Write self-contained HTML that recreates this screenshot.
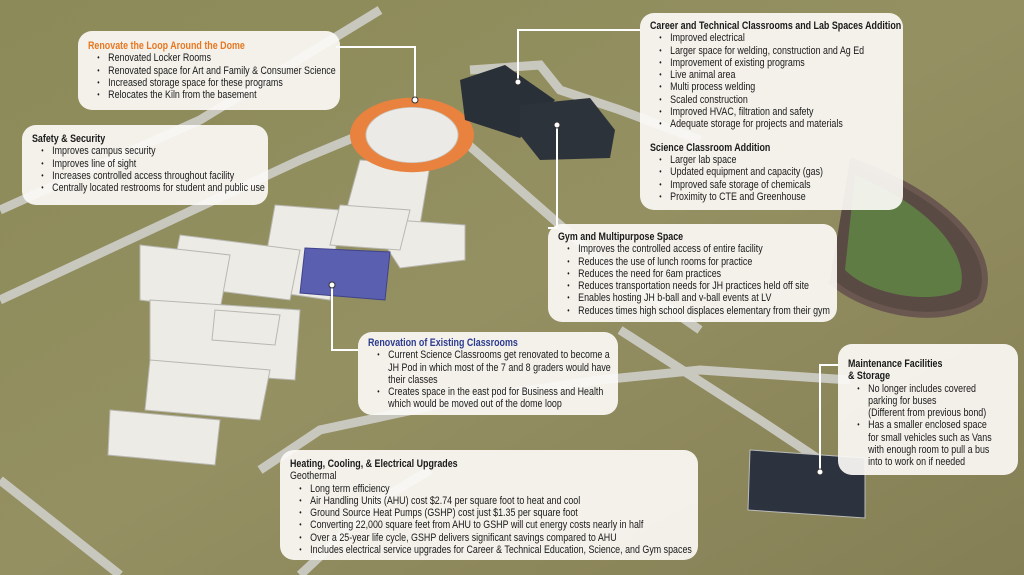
<!DOCTYPE html>
<html><head><meta charset="utf-8">
<style>
html,body{margin:0;padding:0;width:1024px;height:575px;overflow:hidden}
body{position:relative;background:#8d8a5c;font-family:"Liberation Sans",sans-serif}
svg{position:absolute;left:0;top:0}
.box{position:absolute;background:rgba(252,250,246,0.92);border-radius:14px;color:#1a1a1a;box-sizing:border-box;overflow:hidden}
.in{transform:scaleX(.84);transform-origin:0 0;white-space:nowrap;font-size:10.6px;line-height:12.3px}
.box b{font-weight:bold;display:block}
.box ul{margin:0;padding:0 0 0 24px;list-style:none}
.box li{position:relative}
.box li:before{content:"•";position:absolute;left:-13px;font-size:8px}
</style></head><body>
<svg width="1024" height="575" viewBox="0 0 1024 575">
<defs><linearGradient id="g" x1="0" y1="0" x2="1" y2="1"><stop offset="0" stop-color="#8c8a58"/><stop offset=".5" stop-color="#949062"/><stop offset="1" stop-color="#857f55"/></linearGradient></defs>
<rect width="1024" height="575" fill="url(#g)"/>
<g fill="none" stroke="#c9c8bf" stroke-width="9">
<path d="M0 300 L150 230 L300 160 L420 110"/>
<path d="M0 210 L200 120 L380 10"/>
<path d="M470 70 L540 65 L560 90 L620 110 L700 140"/>
<path d="M440 120 L520 190 L600 260 L700 330"/>
<path d="M260 470 L320 430 L460 400 L600 380 L700 370 L850 380"/>
<path d="M300 575 L380 500 L430 470"/>
<path d="M0 480 L120 575"/>
<path d="M620 330 L760 420 L820 460"/>
</g>
<path d="M850 160 C960 200 1000 260 980 300 C940 330 860 310 830 280" fill="#5a4a44" stroke="#6a5850" stroke-width="6"/>
<path d="M855 175 C940 210 970 260 960 290 C930 305 870 295 845 270Z" fill="#5f7c45"/>
<g fill="#ecebe6" stroke="#b8b7b0" stroke-width="1">
<polygon points="360,160 430,165 420,225 345,215"/>
<polygon points="275,205 340,210 330,300 260,290"/>
<polygon points="180,235 300,250 290,300 170,285"/>
<polygon points="140,245 230,255 220,310 140,300"/>
<polygon points="150,300 300,310 295,380 150,370"/>
<polygon points="150,360 270,370 260,420 145,410"/>
<polygon points="110,410 220,420 215,465 108,455"/>
<polygon points="215,310 280,315 275,345 212,340"/>
<polygon points="395,220 465,225 465,260 400,268 385,245"/>
<polygon points="340,205 410,210 400,250 330,245"/>
</g>
<polygon points="305,248 390,252 385,300 300,293" fill="#5b5fb0" stroke="#3f438a"/>
<circle cx="412" cy="135" r="62" fill="#e9823f" transform="matrix(1 0 0 .6 0 54)"/>
<circle cx="412" cy="135" r="46" fill="#eceae6" stroke="#c9c7c0" transform="matrix(1 0 0 .6 0 54)"/>
<polygon points="460,80 505,65 555,100 520,138 465,120" fill="#2a3038"/>
<polygon points="520,105 590,98 615,130 610,158 540,160 520,135" fill="#2d333b"/>
<polygon points="750,450 865,458 865,518 748,510" fill="#2c333e" stroke="#bbb"/>
<g stroke="#fff" stroke-width="2" fill="none">
<path d="M336 47 H415 V100"/>
<path d="M640 30 H518 V82"/>
<path d="M557 125 V228 H548"/>
<path d="M332 285 V350 H358"/>
<path d="M820 472 V365 H838"/>
</g>
<g fill="#fff" stroke="#333" stroke-width="1">
<circle cx="415" cy="100" r="3"/><circle cx="518" cy="82" r="3"/><circle cx="557" cy="125" r="3"/><circle cx="332" cy="285" r="3"/><circle cx="820" cy="472" r="3"/>
</g>
</svg>

<div class="box" style="left:78px;top:31px;width:262px;height:79px;padding:9px 0 0 10px"><div class="in">
<b style="color:#e87722">Renovate the Loop Around the Dome</b>
<ul><li>Renovated Locker Rooms</li><li>Renovated space for Art and Family &amp; Consumer Science</li><li>Increased storage space for these programs</li><li>Relocates the Kiln from the basement</li></ul></div></div>

<div class="box" style="left:22px;top:125px;width:246px;height:80px;padding:8px 0 0 10px"><div class="in">
<b>Safety &amp; Security</b>
<ul><li>Improves campus security</li><li>Improves line of sight</li><li>Increases controlled access throughout facility</li><li>Centrally located restrooms for student and public use</li></ul></div></div>

<div class="box" style="left:640px;top:13px;width:263px;height:197px;padding:7px 0 0 10px"><div class="in">
<b>Career and Technical Classrooms and Lab Spaces Addition</b>
<ul><li>Improved electrical</li><li>Larger space for welding, construction and Ag Ed</li><li>Improvement of existing programs</li><li>Live animal area</li><li>Multi process welding</li><li>Scaled construction</li><li>Improved HVAC, filtration and safety</li><li>Adequate storage for projects and materials</li></ul>
<b style="margin-top:11px">Science Classroom Addition</b>
<ul><li>Larger lab space</li><li>Updated equipment and capacity (gas)</li><li>Improved safe storage of chemicals</li><li>Proximity to CTE and Greenhouse</li></ul></div></div>

<div class="box" style="left:548px;top:224px;width:289px;height:98px;padding:7px 0 0 10px"><div class="in">
<b>Gym and Multipurpose Space</b>
<ul><li>Improves the controlled access of entire facility</li><li>Reduces the use of lunch rooms for practice</li><li>Reduces the need for 6am practices</li><li>Reduces transportation needs for JH practices held off site</li><li>Enables hosting JH b-ball and v-ball events at LV</li><li>Reduces times high school displaces elementary from their gym</li></ul></div></div>

<div class="box" style="left:358px;top:332px;width:260px;height:83px;padding:5px 0 0 10px"><div class="in">
<b style="color:#2b3a8f">Renovation of Existing Classrooms</b>
<ul><li>Current Science Classrooms get renovated to become a<br>JH Pod in which most of the 7 and 8 graders would have<br>their classes</li><li>Creates space in the east pod for Business and Health<br>which would be moved out of the dome loop</li></ul></div></div>

<div class="box" style="left:838px;top:344px;width:180px;height:131px;padding:14px 0 0 10px"><div class="in">
<b>Maintenance Facilities<br>&amp; Storage</b>
<ul><li>No longer includes covered<br>parking for buses<br>(Different from previous bond)</li><li>Has a smaller enclosed space<br>for small vehicles such as Vans<br>with enough room to pull a bus<br>into to work on if needed</li></ul></div></div>

<div class="box" style="left:280px;top:450px;width:418px;height:110px;padding:8px 0 0 10px"><div class="in">
<b>Heating, Cooling, &amp; Electrical Upgrades</b>
<div>Geothermal</div>
<ul><li>Long term efficiency</li><li>Air Handling Units (AHU) cost $2.74 per square foot to heat and cool</li><li>Ground Source Heat Pumps (GSHP) cost just $1.35 per square foot</li><li>Converting 22,000 square feet from AHU to GSHP will cut energy costs nearly in half</li><li>Over a 25-year life cycle, GSHP delivers significant savings compared to AHU</li><li>Includes electrical service upgrades for Career &amp; Technical Education, Science, and Gym spaces</li></ul></div></div>
</body></html>
